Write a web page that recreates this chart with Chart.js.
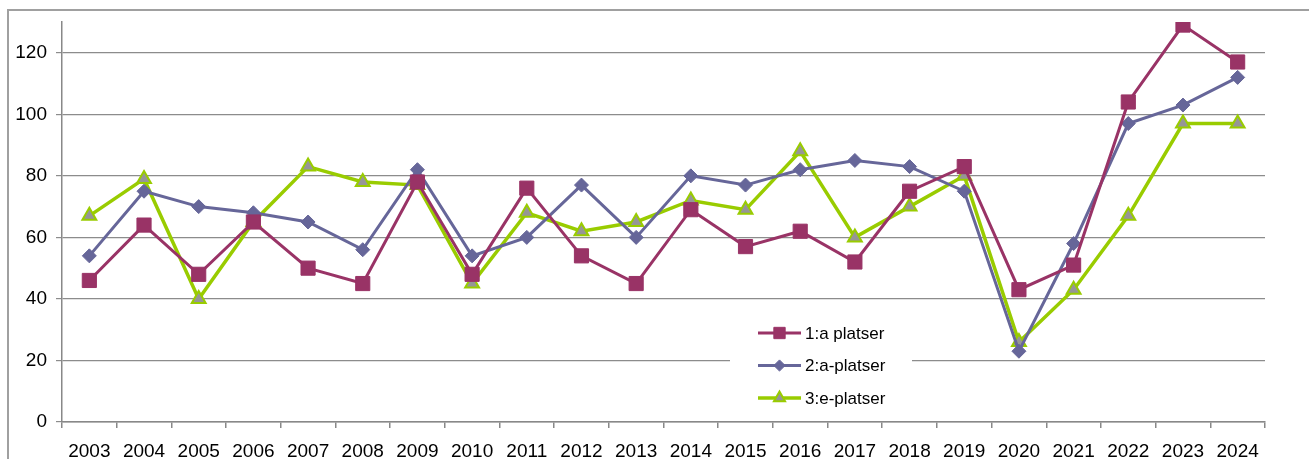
<!DOCTYPE html>
<html lang="sv">
<head>
    <meta charset="UTF-8">
    <script src="https://cdn.jsdelivr.net/npm/chart.js@4/dist/chart.umd.min.js"></script>
    <title>Platser 2003-2024</title>
    <style>
        html, body { margin: 0; padding: 0; background: #fff; overflow: hidden; }
        .frame { position: absolute; left: 7px; top: 9px; width: 1400px; height: 500px;
                 border-left: 2px solid #a0a0a0; border-top: 2px solid #a0a0a0; }
        canvas { position: absolute; left: 0; top: 0; }
    </style>
</head>
<body>
    <div class="frame"></div>
    <canvas id="platsChart" width="1309" height="459"></canvas>

    <script>
        const years = ["2003", "2004", "2005", "2006", "2007", "2008", "2009", "2010", "2011", "2012", "2013",
                       "2014", "2015", "2016", "2017", "2018", "2019", "2020", "2021", "2022", "2023", "2024"];
        const forstaPlatser = [46, 64, 48, 65, 50, 45, 78, 48, 76, 54, 45, 69, 57, 62, 52, 75, 83, 43, 51, 104, 129, 117];
        const andraPlatser  = [54, 75, 70, 68, 65, 56, 82, 54, 60, 77, 60, 80, 77, 82, 85, 83, 75, 23, 58, 97, 103, 112];
        const tredjePlatser = [67, 79, 40, 65, 83, 78, 77, 45, 68, 62, 65, 72, 69, 88, 60, 70, 80, 26, 43, 67, 97, 97];
        const yTicks = [0, 20, 40, 60, 80, 100, 120];

        const fontFam = "'Liberation Sans', Arial, sans-serif";

        function drawMark(ctx, style, r, x, y) {
            ctx.beginPath();
            if (style === 'rect') {
                const s = r * Math.SQRT1_2;
                ctx.rect(x - s, y - s, 2 * s, 2 * s);
            } else if (style === 'rectRot') {
                ctx.moveTo(x, y - r); ctx.lineTo(x + r, y); ctx.lineTo(x, y + r); ctx.lineTo(x - r, y);
                ctx.closePath();
            } else {
                ctx.moveTo(x, y - r);
                ctx.lineTo(x + r * 0.866, y + r / 2);
                ctx.lineTo(x - r * 0.866, y + r / 2);
                ctx.closePath();
            }
            ctx.fill();
            ctx.stroke();
        }

        // legend drawn inside the plot, with a white box over the grid
        const boxLegend = {
            id: 'boxLegend',
            afterDatasetsDraw(chart) {
                const ctx = chart.ctx;
                ctx.save();
                ctx.fillStyle = '#fff';
                ctx.fillRect(730, 315, 182, 100);
                chart.data.datasets.forEach((ds, i) => {
                    const y = 333 + i * 32.5;
                    ctx.strokeStyle = ds.borderColor;
                    ctx.lineWidth = ds.borderWidth;
                    ctx.beginPath();
                    ctx.moveTo(758, y);
                    ctx.lineTo(801, y);
                    ctx.stroke();
                    ctx.fillStyle = ds.pointBackgroundColor;
                    ctx.strokeStyle = ds.pointBorderColor;
                    ctx.lineWidth = ds.pointBorderWidth;
                    drawMark(ctx, ds.pointStyle, ds.pointRadius * 0.8, 779.5, y);
                    ctx.fillStyle = '#000';
                    ctx.font = '17px ' + fontFam;
                    ctx.textBaseline = 'middle';
                    ctx.fillText(ds.label, 805, y + 1);
                });
                ctx.restore();
            }
        };

        new Chart("platsChart", {
            type: "line",
            data: {
                labels: years,
                datasets: [{
                    label: "1:a platser",
                    data: forstaPlatser,
                    borderColor: "#993366",
                    borderWidth: 3,
                    pointStyle: "rect",
                    pointRadius: 10,
                    pointBackgroundColor: "#993366",
                    pointBorderColor: "#993366",
                    pointBorderWidth: 1,
                    tension: 0
                }, {
                    label: "2:a-platser",
                    data: andraPlatser,
                    borderColor: "#666699",
                    borderWidth: 3,
                    pointStyle: "rectRot",
                    pointRadius: 7,
                    pointBackgroundColor: "#666699",
                    pointBorderColor: "#666699",
                    pointBorderWidth: 1,
                    tension: 0
                }, {
                    label: "3:e-platser",
                    data: tredjePlatser,
                    borderColor: "#99cc00",
                    borderWidth: 3.5,
                    pointStyle: "triangle",
                    pointRadius: 8,
                    pointBackgroundColor: "#969696",
                    pointBorderColor: "#99cc00",
                    pointBorderWidth: 2,
                    tension: 0
                }]
            },
            options: {
                responsive: false,
                animation: false,
                events: [],
                layout: { padding: { left: 0, top: 22, right: 44, bottom: 0 } },
                plugins: {
                    legend: { display: false },
                    title: { display: false },
                    tooltip: { enabled: false }
                },
                scales: {
                    x: {
                        offset: true,
                        grid: { offset: true, drawOnChartArea: false, drawTicks: true, tickLength: 6, color: '#888', lineWidth: 1.5 },
                        border: { color: '#888', width: 1.5 },
                        ticks: { color: '#000', font: { family: fontFam, size: 19 }, padding: 12, maxRotation: 0, autoSkip: false },
                        afterFit(scale) { scale.height = 37; }
                    },
                    y: {
                        min: 0,
                        max: 130,
                        afterBuildTicks(scale) { scale.ticks = yTicks.map(v => ({ value: v })); },
                        grid: { color: '#8c8c8c', lineWidth: 1.2, tickLength: 6 },
                        border: { color: '#888', width: 1.5 },
                        ticks: { color: '#000', font: { family: fontFam, size: 19 }, padding: 9 },
                        afterFit(scale) { scale.width = 62; }
                    }
                }
            },
            plugins: [boxLegend]
        });
    </script>
</body>
</html>
